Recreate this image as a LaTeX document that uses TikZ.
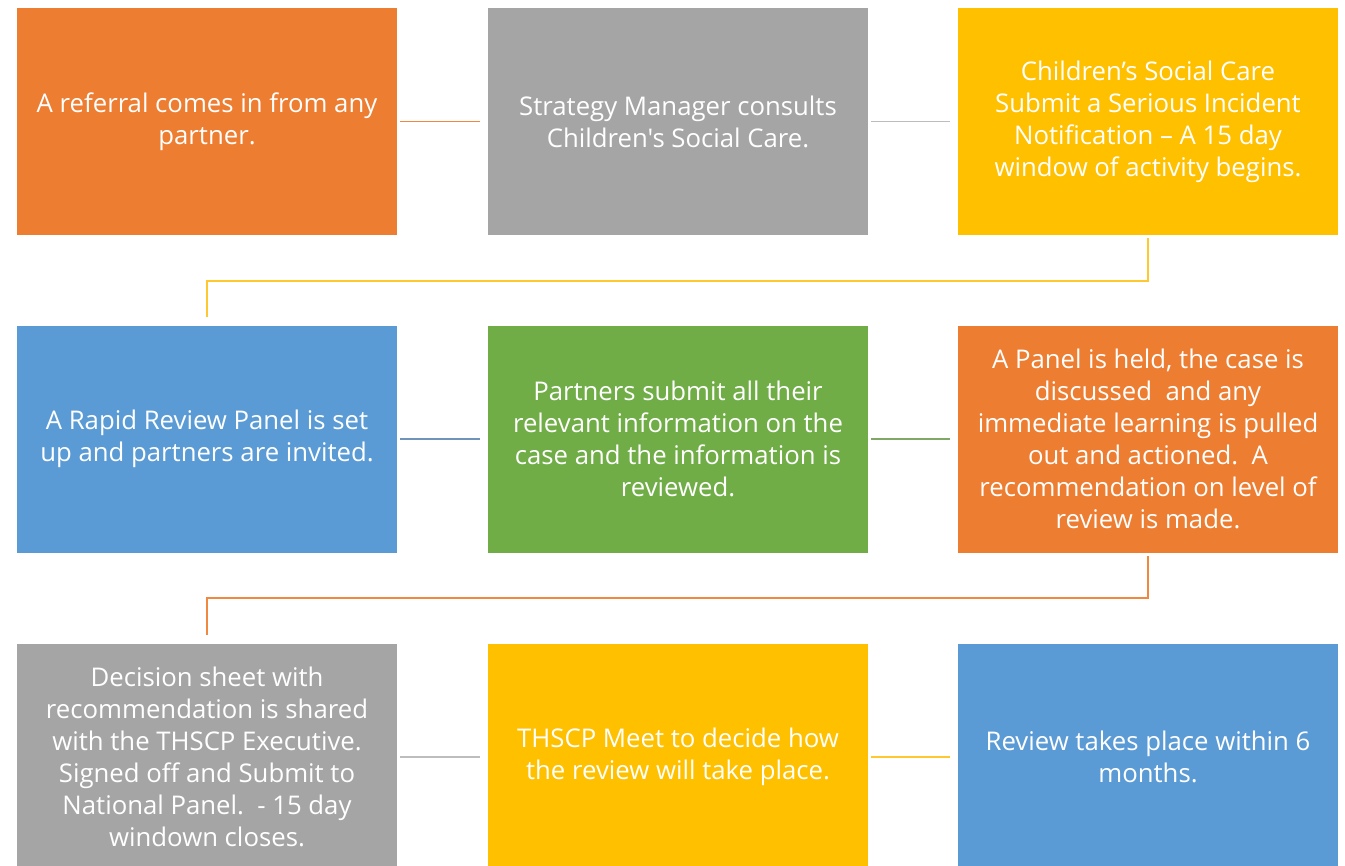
\documentclass[tikz,border=0pt]{standalone}
\usepackage{fontspec}
\setmainfont{Open Sans}[Ligatures=TeXOff]
\usetikzlibrary{calc}
\definecolor{corange}{HTML}{ED7D31}
\definecolor{cgray}{HTML}{A5A5A5}
\definecolor{cyellow}{HTML}{FFC000}
\definecolor{cblue}{HTML}{5B9BD5}
\definecolor{cgreen}{HTML}{70AD47}
\definecolor{lorange}{HTML}{F0893F}
\definecolor{lgray}{HTML}{BDBDBD}
\definecolor{lyellow}{HTML}{FFC830}
\definecolor{lblue}{HTML}{7093B8}
\definecolor{lgreen}{HTML}{7FA866}
\begin{document}
\begin{tikzpicture}[x=0.75pt,y=-0.75pt,
  box/.style={draw=none,minimum width=380*0.75pt,minimum height=227*0.75pt,inner sep=0pt,
    align=center,text=white,font=\fontsize{19.3}{24}\selectfont},
  conn/.style={line width=1.4pt,shorten <=2.25pt,shorten >=6pt}]
\useasboundingbox (0,0) rectangle (1345,865);
\begin{scope}
\clip (0,0) rectangle (1345,865);
\node[box,fill=corange] (b1) at (207,121.5) {A referral comes in from any\\partner.};
\node[box,fill=cgray] (b2) at (678,121.5) {Strategy Manager consults\\Children's Social Care.};
\node[box,fill=cyellow] (b3) at (1148,121.5) {Children’s Social Care\\Submit a Serious Incident\\Notification – A 15 day\\window of activity begins.};
\node[box,fill=cblue] (b4) at (207,439) {A Rapid Review Panel is set\\up and partners are invited.};
\node[box,fill=cgreen] (b5) at (678,439) {Partners submit all their\\relevant information on the\\case and the information is\\reviewed.};
\node[box,fill=corange] (b6) at (1148,439) {A Panel is held, the case is\\discussed\ \ and any\\immediate learning is pulled\\out and actioned.\ \ A\\recommendation on level of\\review is made.};
\node[box,fill=cgray] (b7) at (207,757) {Decision sheet with\\recommendation is shared\\with the THSCP Executive.\\Signed off and Submit to\\National Panel.\ \ - 15 day\\windown closes.};
\node[box,fill=cyellow] (b8) at (678,757) {THSCP Meet to decide how\\the review will take place.};
\node[box,fill=cblue] (b9) at (1148,757) {Review takes place within 6\\months.};
\end{scope}
\draw[conn,lorange] (b1) -- (b2);
\draw[conn,lgray] (b2) -- (b3);
\draw[conn,lyellow] (b3.south) -- ++(0,45.5) -| (b4.north);
\draw[conn,lblue] (b4) -- (b5);
\draw[conn,lgreen] (b5) -- (b6);
\draw[conn,lorange] (b6.south) -- ++(0,45.5) -| (b7.north);
\draw[conn,lgray] (b7) -- (b8);
\draw[conn,lyellow] (b8) -- (b9);
\end{tikzpicture}
\end{document}
